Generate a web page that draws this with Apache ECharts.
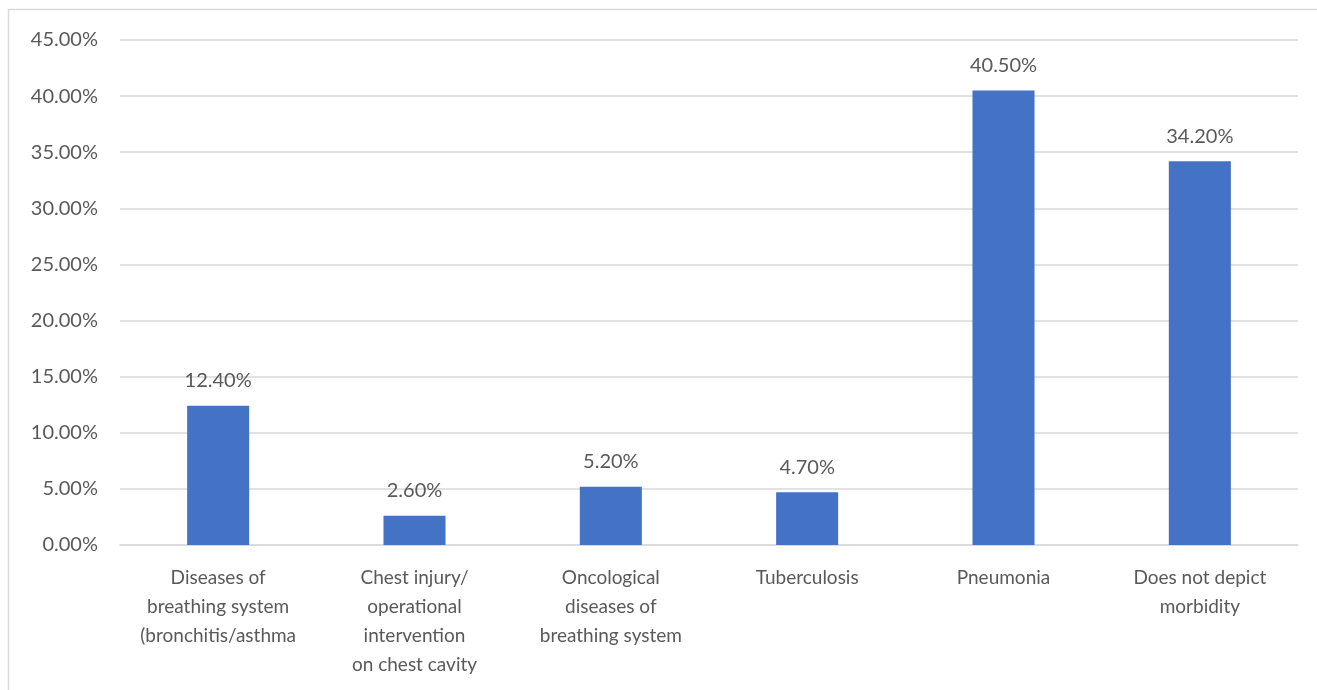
<!DOCTYPE html>
<html><head><meta charset="utf-8">
<style>html,body{margin:0;padding:0;background:#fff}#c{width:1317px;height:690px}</style>
<script src="https://cdn.jsdelivr.net/npm/echarts@6/dist/echarts.min.js"></script>
</head><body><div id="c"></div>
<script>
var categories = ["Diseases of\nbreathing system\n(bronchitis/asthma", "Chest injury/\noperational\nintervention\non chest cavity", "Oncological\ndiseases of\nbreathing system", "Tuberculosis", "Pneumonia", "Does not depict\nmorbidity"];
var values = [12.4, 2.6, 5.2, 4.7, 40.5, 34.2];
var yMin = 0, yMax = 45, yStep = 5;

var chart = echarts.init(document.getElementById('c'));
var font = 'Lato, "Open Sans", sans-serif';
chart.setOption({
  animation: false,
  graphic: [{type: 'rect', shape: {x: 8.5, y: 9.5, width: 1330, height: 700}, style: {fill: 'none', stroke: '#d9d9d9', lineWidth: 1.5}}],
  grid: {left: 120, right: 19, top: 40, bottom: 145},
  xAxis: {
    type: 'category', data: categories,
    axisLine: {lineStyle: {color: '#d9d9d9', width: 1.5}},
    axisTick: {show: false},
    axisLabel: {color: '#595959', fontSize: 19, fontFamily: font, lineHeight: 29, margin: 18, interval: 0}
  },
  yAxis: {
    type: 'value', min: yMin, max: yMax, interval: yStep,
    axisLine: {show: false}, axisTick: {show: false},
    splitLine: {lineStyle: {color: '#d9d9d9', width: 1.5}},
    axisLabel: {color: '#595959', fontSize: 20, fontFamily: font, margin: 22,
      formatter: function (v) { return v.toFixed(2) + '%'; }}
  },
  series: [{
    type: 'bar', data: values, barWidth: '31.6%',
    itemStyle: {color: '#4472C4'},
    label: {show: true, position: 'top', distance: 15, color: '#595959', fontSize: 20, fontFamily: font,
      formatter: function (p) { return p.value.toFixed(2) + '%'; }}
  }]
});
</script></body></html>
